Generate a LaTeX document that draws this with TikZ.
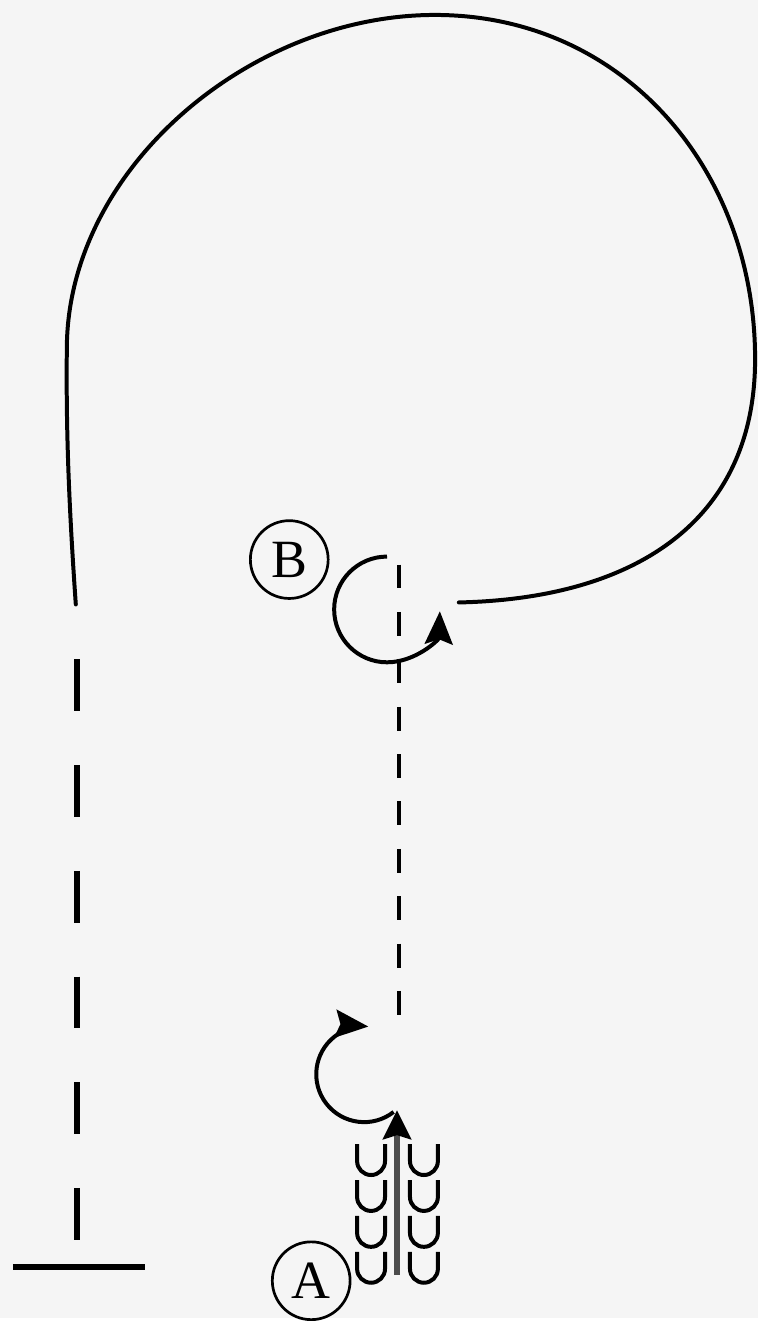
\documentclass[tikz,border=0pt]{standalone}
\usepackage{fontspec}
\setmainfont{Liberation Serif}
\usetikzlibrary{arrows.meta}

\begin{document}
\begin{tikzpicture}[x=1pt, y=1pt,
    trackline/.style={line width=4pt, line cap=round},
    turnline/.style={line width=4pt,
        -{Stealth[length=33pt, width=28pt, inset=5pt]}},
    trackdash/.style={line width=5.5pt, dash pattern=on 52pt off 54pt},
    centredash/.style={line width=5pt, dash pattern=on 24pt off 23.5pt},
    hoof/.style={line width=4pt},
    letterdisc/.style={circle, draw, line width=2.7pt, minimum size=78pt,
        inner sep=0pt, font=\fontsize{54}{60}\selectfont}]
    % paper
    \fill[black!4] (0,0) rectangle (760,1321);

    % big loop, left leg and base line
    \coordinate (loopin) at (76,715);
    \coordinate (loopleft) at (67,971);
    \coordinate (looptop) at (436,1306);
    \coordinate (loopright) at (757,961);
    \coordinate (loopout) at (460,717);
    \draw[trackline] (loopin) .. controls (70,801) and (66,881) .. (loopleft)
        .. controls (67,1151) and (250,1306) .. (looptop)
        .. controls (625,1306) and (757,1151) .. (loopright)
        .. controls (757,801) and (640,721) .. (loopout);
    \coordinate (legtop) at (77,660);
    \coordinate (legfoot) at (77,77);
    \draw[trackdash] (legtop) -- (legfoot);
    \draw[line width=6pt] (13,50.5) -- (145,50.5);

    % centre line
    \coordinate (ctop) at (400,755);
    \coordinate (cfoot) at (400,303);
    \draw[centredash] (ctop) -- (cfoot);

    % turns
    \draw[turnline] (388,763) arc[start angle=90, end angle=358, radius=53];
    \draw[turnline] (394.6,206.2) arc[start angle=308, end angle=85, radius=48];

    % start: tracks and arrow
    \foreach \row in {0,...,3} {
        \foreach \xu in {358,411} {
            \draw[hoof] (\xu,174-36*\row) -- ++(0,-17)
                arc[start angle=180, end angle=360, radius=14] -- ++(0,17);
        }
    }
    \coordinate (shaftfoot) at (398,43);
    \coordinate (shafttip) at (398,208);
    \draw[line width=6pt, black!70, -{Stealth[length=29pt, width=28pt, inset=4pt, black]}]
        (shaftfoot) -- (shafttip);

    \node[letterdisc] (B) at (290,760) {B};
    \node[letterdisc] (A) at (312,37) {A};
\end{tikzpicture}
\end{document}
